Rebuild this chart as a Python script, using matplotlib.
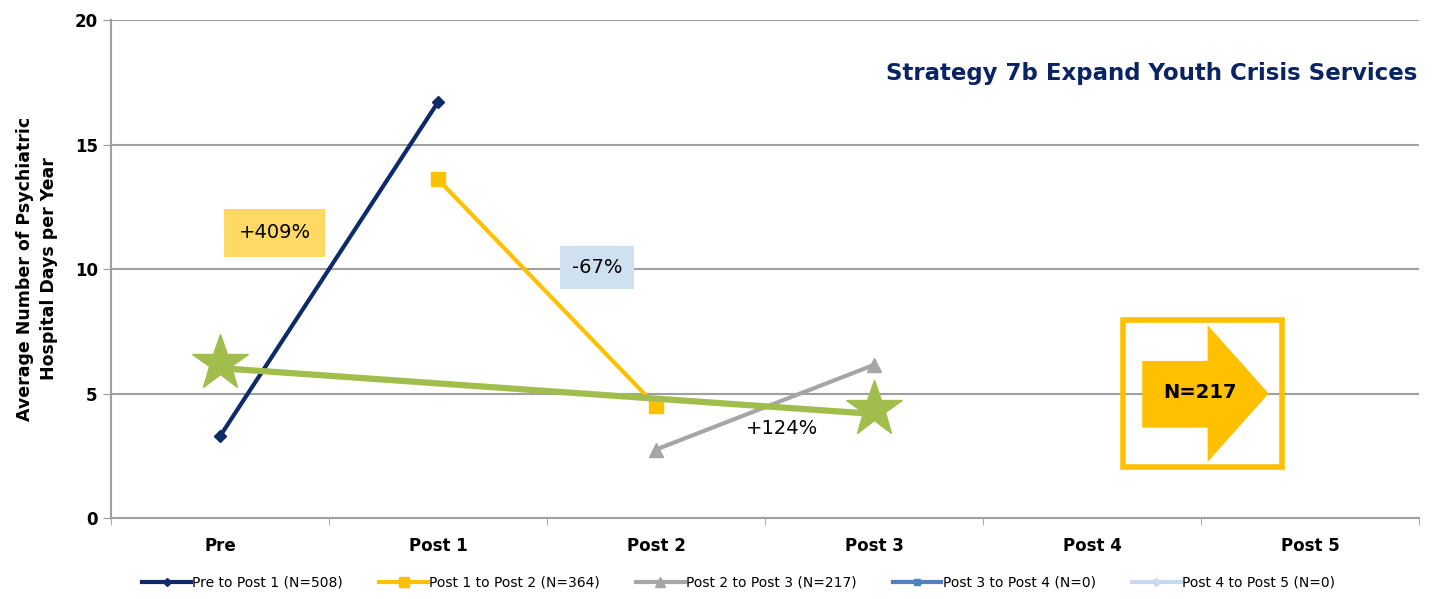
import numpy as np
import matplotlib.pyplot as plt
from matplotlib.patches import Rectangle, Polygon

# categories and series values
periods = ['Pre', 'Post 1', 'Post 2', 'Post 3', 'Post 4', 'Post 5']
pre_post1 = [3.28, 16.7]         # Pre -> Post 1
post1_post2 = [13.6, 4.5]        # Post 1 -> Post 2
post2_post3 = [2.75, 6.15]       # Post 2 -> Post 3
trend = [6.02, 4.18]             # overall trend, Pre -> Post 3
series_names = ['Pre to Post 1 (N=508)', 'Post 1 to Post 2 (N=364)',
                'Post 2 to Post 3 (N=217)', 'Post 3 to Post 4 (N=0)',
                'Post 4 to Post 5 (N=0)']
changes = ['+409%', '-67%', '+124%']
n_label = 'N=217'

navy = '#0f2a6b'
gold = '#ffc000'
grey = '#a6a6a6'
olive = '#a1bd4b'

fig = plt.figure(figsize=(14.54, 5.99), dpi=100)
ax = fig.add_axes([0.0763, 0.1352, 0.8997, 0.8314])

x = np.arange(len(periods))
ax.plot(x[0:2], pre_post1, color=navy, lw=3, marker='D', ms=6, label=series_names[0], zorder=4)
ax.plot(x[1:3], post1_post2, color=gold, lw=3, marker='s', ms=10, label=series_names[1], zorder=4)
ax.plot(x[2:4], post2_post3, color=grey, lw=3, marker='^', ms=10, label=series_names[2], zorder=4)
ax.plot([], [], color='#4f81bd', lw=3, marker='s', ms=7, label=series_names[3])
ax.plot([], [], color='#c6d9f1', lw=3, marker='D', ms=6, label=series_names[4])

# overall trend with stars at both ends
ax.plot([x[0], x[3]], trend, color=olive, lw=4.5, zorder=5, solid_capstyle='butt')
ax.plot([x[0], x[3]], [trend[0] + 0.2, trend[1] + 0.2], ls='none', marker='*',
        ms=42, color=olive, mec=olive, zorder=6)

# percentage change labels
ax.text(0.25, 11.45, changes[0], ha='center', va='center', fontsize=14, zorder=7,
        bbox=dict(boxstyle='square,pad=0.75', fc='#ffd966', ec='none'))
ax.text(1.73, 10.05, changes[1], ha='center', va='center', fontsize=14, zorder=7,
        bbox=dict(boxstyle='square,pad=0.62', fc='#cfe0f1', ec='none'))
ax.text(2.58, 3.6, changes[2], ha='center', va='center', fontsize=14, zorder=7)

# sample size callout: framed arrow
ax.add_patch(Rectangle((4.142, 2.05), 0.728, 5.9, fill=False, ec=gold, lw=4, zorder=3))
arrow = [(4.23, 6.31), (4.53, 6.31), (4.53, 7.75), (4.81, 5.0), (4.53, 2.25),
         (4.53, 3.63), (4.23, 3.63)]
ax.add_patch(Polygon(arrow, closed=True, fc=gold, ec='none', zorder=3))
ax.text(4.495, 5.05, n_label, ha='center', va='center', fontsize=14,
        fontweight='bold', zorder=4)

ax.set_xlim(-0.5, 5.5)
ax.set_ylim(0, 20)
ax.set_yticks([0, 5, 10, 15, 20])
ax.set_xticks(x)
ax.set_xticklabels(periods, fontsize=12, fontweight='bold')
ax.set_xticks(np.arange(-0.5, 6, 1), minor=True)
ax.tick_params(axis='x', which='major', length=0, pad=14)
ax.tick_params(axis='x', which='minor', length=5, color='#999999', direction='out')
ax.tick_params(axis='y', length=6, color='#999999', direction='out', labelsize=12)
for lbl in ax.get_yticklabels():
    lbl.set_fontweight('bold')
ax.grid(axis='y', color='#a0a0a0', lw=1.5)
ax.set_axisbelow(True)
for side in ['top', 'right']:
    ax.spines[side].set_visible(False)
for side in ['left', 'bottom']:
    ax.spines[side].set_color('#a0a0a0')
    ax.spines[side].set_linewidth(1.5)

ax.set_ylabel('Average Number of Psychiatric\nHospital Days per Year', fontsize=12.5,
              fontweight='bold', labelpad=12, linespacing=1.45)

ax.text(0.999, 0.893, 'Strategy 7b Expand Youth Crisis Services', transform=ax.transAxes,
        ha='right', va='center', fontsize=16.5, fontweight='bold', color='#0a2463')

fig.legend(loc='lower center', bbox_to_anchor=(0.508, -0.005), ncol=5, frameon=False,
           fontsize=10, handlelength=3.5, handletextpad=0.1, columnspacing=2.6,
           markerscale=0.7)

fig.savefig('out.png', dpi=100)
